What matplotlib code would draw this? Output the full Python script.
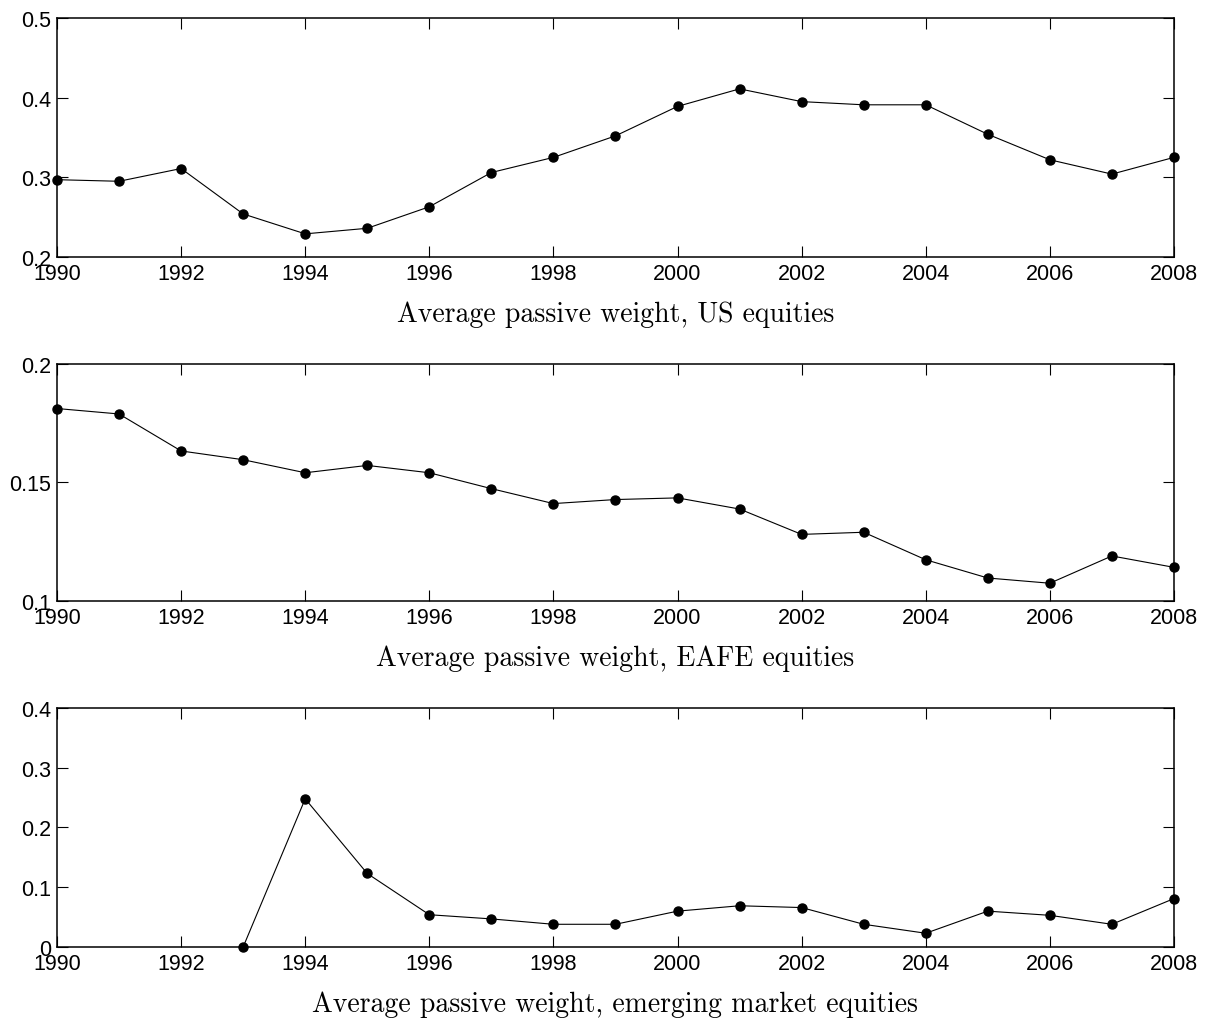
import numpy as np
import matplotlib
matplotlib.use('Agg')
import matplotlib.pyplot as plt

plt.rcParams['font.family'] = ['Liberation Sans', 'DejaVu Sans']

years = list(range(1990, 2009))
us_weight = [0.297, 0.295, 0.311, 0.254, 0.229, 0.236, 0.263, 0.306, 0.325, 0.352,
             0.389, 0.411, 0.395, 0.391, 0.391, 0.354, 0.322, 0.304, 0.325]
eafe_weight = [0.1812, 0.1789, 0.1633, 0.1596, 0.1541, 0.1572, 0.1541, 0.1474, 0.1411, 0.1428,
               0.1435, 0.1388, 0.1281, 0.1290, 0.1174, 0.1097, 0.1075, 0.1190, 0.1142]
em_weight = [np.nan, np.nan, np.nan, 0.0, 0.248, 0.123, 0.054, 0.047, 0.038, 0.038,
             0.060, 0.069, 0.066, 0.038, 0.023, 0.060, 0.053, 0.038, 0.081]

us_yticks = [0.2, 0.3, 0.4, 0.5]
eafe_yticks = [0.1, 0.15, 0.2]
em_yticks = [0, 0.1, 0.2, 0.3, 0.4]

titles = ['Average passive weight, US equities',
          'Average passive weight, EAFE equities',
          'Average passive weight, emerging market equities']

panels = [
    (us_weight, us_yticks, titles[0], [0.0471, 0.7471, 0.9231, 0.2343]),
    (eafe_weight, eafe_yticks, titles[1], [0.0471, 0.4098, 0.9231, 0.2324]),
    (em_weight, em_yticks, titles[2], [0.0471, 0.0706, 0.9231, 0.2343]),
]

fig = plt.figure(figsize=(12.1, 10.2), dpi=100)

for values, yticks, title, rect in panels:
    ax = fig.add_axes(rect)
    ax.plot(years, values, color='k', lw=0.8, marker='o', ms=6.5, clip_on=False, zorder=3)
    ax.set_xlim(1990, 2008)
    ax.set_ylim(yticks[0], yticks[-1])
    ax.set_xticks(range(1990, 2009, 2))
    ax.set_yticks(yticks)
    ax.set_yticklabels(['%g' % t for t in yticks])
    ax.tick_params(direction='in', top=True, right=True, length=8, width=0.8,
                   labelsize=15.5, pad=4)
    for s in ax.spines.values():
        s.set_linewidth(1.1)
    ax.annotate(title, xy=(0.5, 0), xycoords='axes fraction', xytext=(0, -46),
                textcoords='offset points', ha='center', va='baseline',
                fontsize=20, family='cmr10')

fig.savefig('out.png', dpi=100)
